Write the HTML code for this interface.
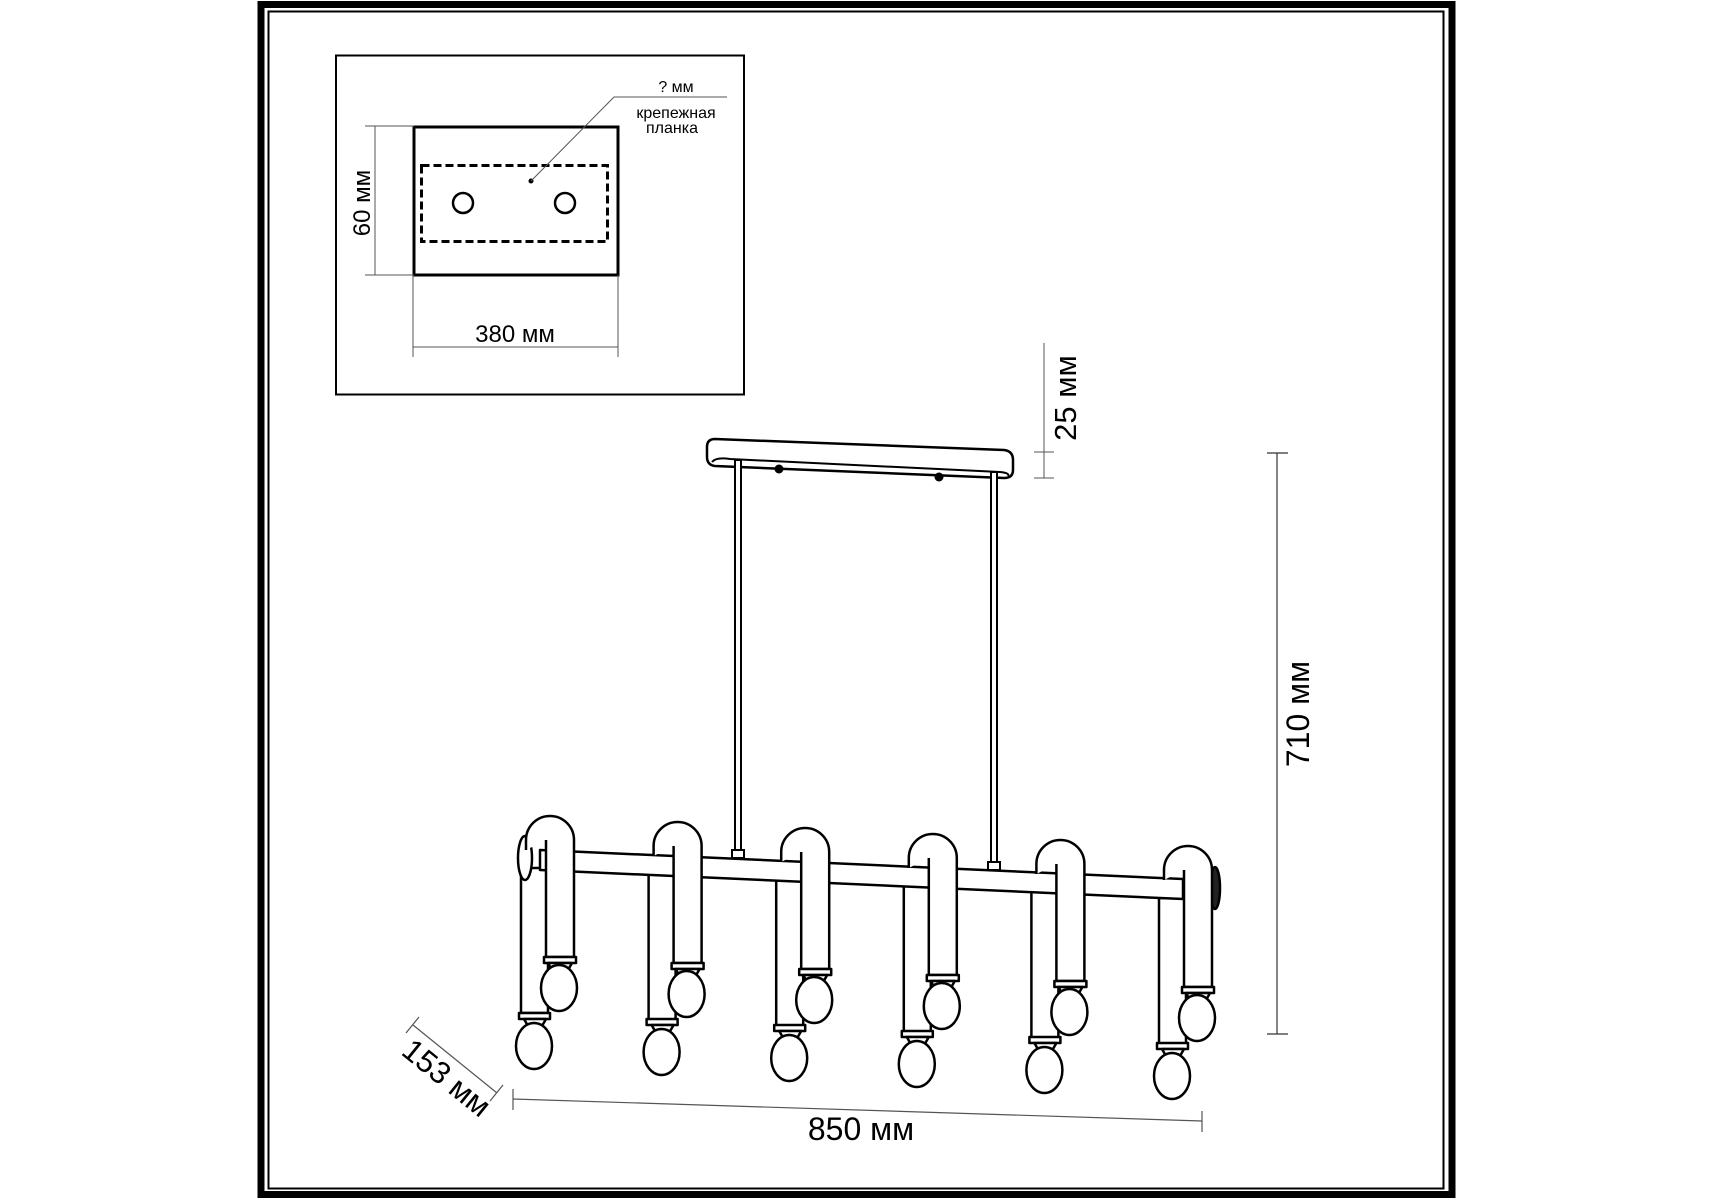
<!DOCTYPE html>
<html><head><meta charset="utf-8"><style>
html,body{margin:0;padding:0;background:#fff;}
svg{display:block;}
text{font-family:"Liberation Sans","DejaVu Sans",sans-serif;fill:#000;}
</style></head><body>
<svg width="1715" height="1200" viewBox="0 0 1715 1200" xmlns="http://www.w3.org/2000/svg">
<rect x="0" y="0" width="1715" height="1200" fill="#fff"/>
<!-- frame -->
<rect x="261" y="4.5" width="1191" height="1190" fill="none" stroke="#000" stroke-width="7"/>
<rect x="268.5" y="11.5" width="1175" height="1177" fill="none" stroke="#000" stroke-width="2"/>

<!-- inset -->
<rect x="336" y="55.5" width="408" height="339" fill="none" stroke="#000" stroke-width="2"/>
<rect x="414" y="127" width="204" height="148" fill="none" stroke="#000" stroke-width="3"/>
<rect x="421.5" y="165.5" width="186" height="76" fill="none" stroke="#000" stroke-width="3" stroke-dasharray="8,4"/>
<circle cx="463" cy="203" r="10" fill="none" stroke="#000" stroke-width="2.5"/>
<circle cx="565" cy="203" r="10" fill="none" stroke="#000" stroke-width="2.5"/>
<circle cx="531" cy="181" r="2.5" fill="#000"/>
<polyline points="531,181 614,97 727,97" fill="none" stroke="#555" stroke-width="1"/>
<text x="676" y="92" font-size="16" text-anchor="middle">? мм</text>
<text x="676" y="118" font-size="16" text-anchor="middle">крепежная</text>
<text x="672" y="133" font-size="16" text-anchor="middle">планка</text>
<line x1="375" y1="126" x2="375" y2="275" stroke="#555" stroke-width="1"/>
<line x1="365" y1="126" x2="414" y2="126" stroke="#555" stroke-width="1"/>
<line x1="365" y1="275" x2="414" y2="275" stroke="#555" stroke-width="1"/>
<text transform="translate(370,203) rotate(-90)" font-size="24" text-anchor="middle">60 мм</text>
<line x1="413" y1="347" x2="618" y2="347" stroke="#555" stroke-width="1"/>
<line x1="413" y1="275" x2="413" y2="357" stroke="#555" stroke-width="1"/>
<line x1="618" y1="275" x2="618" y2="357" stroke="#555" stroke-width="1"/>
<text x="515" y="342" font-size="24" text-anchor="middle">380 мм</text>

<!-- canopy -->
<path d="M715,439 L1004,450 Q1013,451 1013,460 L1013,470 Q1013,478 1004,478 L715,466 Q707,465 707,457 L707,447 Q707,439 715,439 Z" fill="#fff" stroke="#000" stroke-width="2.5"/>
<path d="M712,462 Q716,457 730,459 L1000,472 Q1010,473 1008,476" fill="none" stroke="#000" stroke-width="2"/>
<circle cx="779" cy="469" r="4.5" fill="#000"/>
<circle cx="939" cy="477" r="4.5" fill="#000"/>
<!-- 25 mm -->
<line x1="1044" y1="343" x2="1044" y2="478" stroke="#555" stroke-width="1"/>
<line x1="1034" y1="452" x2="1054" y2="452" stroke="#555" stroke-width="1"/>
<line x1="1034" y1="478" x2="1054" y2="478" stroke="#555" stroke-width="1"/>
<text transform="translate(1076,398) rotate(-90)" font-size="31" text-anchor="middle">25 мм</text>

<!-- rods -->
<g stroke="#000" stroke-width="2" fill="#fff">
<rect x="735" y="460" width="6" height="395"/>
<rect x="991" y="472" width="6" height="395"/>
<rect x="732" y="850" width="12" height="8"/>
<rect x="988" y="862" width="12" height="8"/>
</g>

<!-- 710 mm -->
<line x1="1277" y1="453" x2="1277" y2="1034" stroke="#333" stroke-width="1.2"/>
<line x1="1267" y1="453" x2="1288" y2="453" stroke="#333" stroke-width="1.2"/>
<line x1="1267" y1="1034" x2="1288" y2="1034" stroke="#333" stroke-width="1.2"/>
<text transform="translate(1309,714) rotate(-90)" font-size="32" text-anchor="middle">710 мм</text>

<!-- 850 mm -->
<line x1="513" y1="1099" x2="1202" y2="1121" stroke="#555" stroke-width="1.2"/>
<line x1="513" y1="1089" x2="513" y2="1110" stroke="#555" stroke-width="1.2"/>
<line x1="1202" y1="1111" x2="1202" y2="1132" stroke="#555" stroke-width="1.2"/>
<text x="861" y="1140" font-size="32" text-anchor="middle">850 мм</text>

<!-- 153 mm -->
<line x1="413" y1="1025" x2="497" y2="1093" stroke="#555" stroke-width="1.2"/>
<line x1="406" y1="1033" x2="419" y2="1017" stroke="#555" stroke-width="1.2"/>
<line x1="490" y1="1101" x2="503" y2="1085" stroke="#555" stroke-width="1.2"/>
<text transform="translate(440,1086) rotate(39)" font-size="31" text-anchor="middle">153 мм</text>

<!-- lamp body -->
<g id="lamp" stroke="#000" stroke-width="2.5" fill="#fff" stroke-linejoin="round">
<g>
<rect x="521" y="868" width="27" height="145"/>
<rect x="648.6" y="874" width="27" height="146"/>
<rect x="776.2" y="880" width="27" height="146"/>
<rect x="903.8" y="886" width="27" height="146"/>
<rect x="1031.4" y="892" width="27" height="146"/>
<rect x="1159" y="898" width="27" height="146"/>
</g>
<g>
<rect x="519" y="1013" width="31" height="6"/><path d="M524,1019 L546,1019 L542,1026 L528,1026 Z"/><ellipse cx="534" cy="1046" rx="18" ry="23"/>
<rect x="646.6" y="1019" width="31" height="6"/><path d="M651.6,1025 L673.6,1025 L669.6,1032 L655.6,1032 Z"/><ellipse cx="661.6" cy="1052" rx="18" ry="23"/>
<rect x="774.2" y="1025" width="31" height="6"/><path d="M779.2,1031 L801.2,1031 L797.2,1038 L783.2,1038 Z"/><ellipse cx="789.2" cy="1058" rx="18" ry="23"/>
<rect x="901.8" y="1031" width="31" height="6"/><path d="M906.8,1037 L928.8,1037 L924.8,1044 L910.8,1044 Z"/><ellipse cx="916.8" cy="1064" rx="18" ry="23"/>
<rect x="1029.4" y="1037" width="31" height="6"/><path d="M1034.4,1043 L1056.4,1043 L1052.4,1050 L1038.4,1050 Z"/><ellipse cx="1044.4" cy="1070" rx="18" ry="23"/>
<rect x="1157" y="1043" width="31" height="6"/><path d="M1162,1049 L1184,1049 L1180,1056 L1166,1056 Z"/><ellipse cx="1172" cy="1076" rx="18" ry="23"/>
</g>
<ellipse cx="525" cy="858" rx="7" ry="22"/>
<polygon points="540,850 1183,879 1183,899 540,870"/>
<ellipse cx="1215" cy="888" rx="5" ry="21" fill="#222"/>
<g>
<path d="M526,850 L526,840 A24,24 0 0 1 574,840 L574,957 L546,957 L546,840"/>
<path d="M653.6,856 L653.6,846 A24,24 0 0 1 701.6,846 L701.6,963 L673.6,963 L673.6,846"/>
<path d="M781.2,862 L781.2,852 A24,24 0 0 1 829.2,852 L829.2,969 L801.2,969 L801.2,852"/>
<path d="M908.8,868 L908.8,858 A24,24 0 0 1 956.8,858 L956.8,975 L928.8,975 L928.8,858"/>
<path d="M1036.4,874 L1036.4,864 A24,24 0 0 1 1084.4,864 L1084.4,981 L1056.4,981 L1056.4,864"/>
<path d="M1164,880 L1164,870 A24,24 0 0 1 1212,870 L1212,987 L1184,987 L1184,870"/>
</g>
<g>
<rect x="544" y="957" width="32" height="6"/><path d="M548,963 L572,963 L568,970 L552,970 Z"/><ellipse cx="559" cy="988" rx="18" ry="23"/>
<rect x="671.6" y="963" width="32" height="6"/><path d="M675.6,969 L699.6,969 L695.6,976 L679.6,976 Z"/><ellipse cx="686.6" cy="994" rx="18" ry="23"/>
<rect x="799.2" y="969" width="32" height="6"/><path d="M803.2,975 L827.2,975 L823.2,982 L807.2,982 Z"/><ellipse cx="814.2" cy="1000" rx="18" ry="23"/>
<rect x="926.8" y="975" width="32" height="6"/><path d="M930.8,981 L954.8,981 L950.8,988 L934.8,988 Z"/><ellipse cx="941.8" cy="1006" rx="18" ry="23"/>
<rect x="1054.4" y="981" width="32" height="6"/><path d="M1058.4,987 L1082.4,987 L1078.4,994 L1062.4,994 Z"/><ellipse cx="1069.4" cy="1012" rx="18" ry="23"/>
<rect x="1182" y="987" width="32" height="6"/><path d="M1186,993 L1210,993 L1206,1000 L1190,1000 Z"/><ellipse cx="1197" cy="1018" rx="18" ry="23"/>
</g>
</g>
</svg>
</body></html>
